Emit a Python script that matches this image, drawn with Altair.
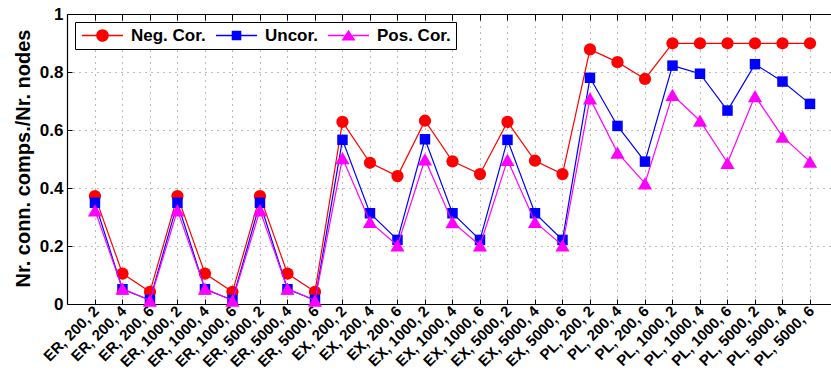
import altair as alt
import pandas as pd

# Network configurations (model, nodes, mean degree) along the x axis
categories = [
    "ER, 200, 2", "ER, 200, 4", "ER, 200, 6",
    "ER, 1000, 2", "ER, 1000, 4", "ER, 1000, 6",
    "ER, 5000, 2", "ER, 5000, 4", "ER, 5000, 6",
    "EX, 200, 2", "EX, 200, 4", "EX, 200, 6",
    "EX, 1000, 2", "EX, 1000, 4", "EX, 1000, 6",
    "EX, 5000, 2", "EX, 5000, 4", "EX, 5000, 6",
    "PL, 200, 2", "PL, 200, 4", "PL, 200, 6",
    "PL, 1000, 2", "PL, 1000, 4", "PL, 1000, 6",
    "PL, 5000, 2", "PL, 5000, 4", "PL, 5000, 6",
]

# Connected components per node for each correlation setting
neg_cor = [0.372, 0.105, 0.042, 0.372, 0.105, 0.042, 0.372, 0.105, 0.042,
           0.628, 0.487, 0.441, 0.632, 0.492, 0.448, 0.628, 0.494, 0.448,
           0.878, 0.834, 0.776, 0.899, 0.899, 0.899, 0.899, 0.899, 0.899]
uncor = [0.349, 0.051, 0.014, 0.349, 0.051, 0.014, 0.349, 0.051, 0.014,
         0.566, 0.313, 0.221, 0.568, 0.313, 0.221, 0.566, 0.313, 0.221,
         0.780, 0.614, 0.491, 0.822, 0.794, 0.667, 0.827, 0.767, 0.690]
pos_cor = [0.323, 0.053, 0.012, 0.323, 0.053, 0.012, 0.323, 0.053, 0.012,
           0.503, 0.283, 0.202, 0.499, 0.282, 0.202, 0.497, 0.283, 0.202,
           0.709, 0.522, 0.416, 0.721, 0.632, 0.487, 0.717, 0.577, 0.491]

series_names = ["Neg. Cor.", "Uncor.", "Pos. Cor."]
series_values = [neg_cor, uncor, pos_cor]
series_colors = ["#ff0000", "#0000ff", "#ff00ff"]
marker_shapes = ["circle", "square", "triangle-up"]
marker_sizes = [150, 110, 200]

# Legend glyphs: a short line with the marker in the middle (unit box, scaled by symbolSize)
_seg = "M-1,-0.034H-0.2V0.034H-1Z M0.2,-0.034H1V0.034H0.2Z "
legend_glyphs = [
    _seg + "M-0.307,0A0.307,0.307 0 1,1 0.307,0A0.307,0.307 0 1,1 -0.307,0Z",
    _seg + "M-0.234,-0.234H0.234V0.234H-0.234Z",
    _seg + "M0,-0.283L0.341,0.239L-0.341,0.239Z",
]

rows = []
for name, vals in zip(series_names, series_values):
    for i, (cat, v) in enumerate(zip(categories, vals)):
        rows.append({"config": cat, "idx": i, "series": name, "value": v})
df = pd.DataFrame(rows)

FONT = "Liberation Sans"

x_scale = alt.Scale(type="point", domain=categories, padding=0.89, align=0.571)
y_scale = alt.Scale(domain=[0, 1], nice=False, zero=True)

bottom_axis = alt.Axis(
    orient="bottom", title=None,
    labelAngle=-45, labelAlign="right", labelBaseline="middle",
    labelFontSize=15, labelFontWeight="bold", labelColor="black",
    labelPadding=9, labelOffset=1, labelOverlap=False, labelBound=False,
    tickSize={"expr": "-5"}, tickColor="black",
    grid=True, gridDash=[1, 5], gridColor="#7a7a7a", gridWidth=1,
    domainColor="black",
)
top_axis = alt.Axis(
    orient="top", title=None, labels=False, grid=False,
    tickSize={"expr": "-6"}, tickColor="black", domainColor="black",
)
left_axis = alt.Axis(
    orient="left", values=[0, 0.2, 0.4, 0.6, 0.8, 1], format="~g",
    title="Nr. conn. comps./Nr. nodes",
    titleFontSize=20, titleFontWeight="bold", titleColor="black",
    titleX=-44, titleY=144, titleAlign="center", titleBaseline="middle", titleAngle=-90,
    labelFontSize=17, labelFontWeight="bold", labelColor="black", labelPadding=9,
    tickSize={"expr": "-5"}, tickColor="black",
    grid=True, gridDash=[1, 5], gridColor="#7a7a7a", gridWidth=1,
    domainColor="black",
)

base = alt.Chart(df)
layers = []
first = True
for name, color, shape, size in zip(series_names, series_colors, marker_shapes, marker_sizes):
    sub = base.transform_filter(alt.datum.series == name)
    y_line = (alt.Y("value:Q", scale=y_scale, axis=left_axis) if first
              else alt.Y("value:Q", scale=y_scale))
    line = sub.mark_line(color=color, strokeWidth=1.2).encode(
        x=alt.X("config:N", scale=x_scale, axis=bottom_axis if first else None),
        y=y_line,
        order=alt.Order("idx:Q"),
    )
    pts = sub.mark_point(filled=True, shape=shape, size=size, color=color, opacity=1).encode(
        x=alt.X("config:N", scale=x_scale, axis=None),
        y=alt.Y("value:Q", scale=y_scale),
    )
    layers += [line, pts]
    first = False

# Invisible layer carrying the top frame axis and the legend
legend_opts = dict(
    orient="none", legendX=8, legendY=8, direction="horizontal", title=None,
    symbolSize=1681, symbolStrokeWidth=0, symbolOpacity=1, symbolOffset=2,
    labelFont=FONT, labelFontSize=17, labelFontWeight="bold", labelColor="black",
    labelOffset=8, columnPadding=8, padding=5, clipHeight=17,
    strokeColor="black", fillColor="white",
)
legend_layer = base.mark_point(filled=True, opacity=0).encode(
    x=alt.X("config:N", scale=x_scale, axis=top_axis),
    y=alt.Y("value:Q", scale=y_scale),
    fill=alt.Fill(
        "series:N",
        scale=alt.Scale(domain=series_names, range=series_colors),
        legend=alt.Legend(**legend_opts),
    ),
    shape=alt.Shape(
        "series:N",
        scale=alt.Scale(domain=series_names, range=legend_glyphs),
        legend=alt.Legend(**legend_opts),
    ),
)
layers.append(legend_layer)

chart = (
    alt.layer(*layers)
    .properties(
        width=764, height=290,
        autosize=alt.AutoSizeParams(type="none"),
        padding={"left": 67, "top": 14, "right": 0, "bottom": 68},
        background="white",
    )
    .configure_view(stroke=None)
    .configure_axis(
        labelFont=FONT, titleFont=FONT, titleFontWeight="bold", titleFontSize=20,
        titleColor="black", domainWidth=1.2, tickWidth=1,
    )
)

chart.save("out.html", embed_options={"renderer": "svg", "actions": False})
